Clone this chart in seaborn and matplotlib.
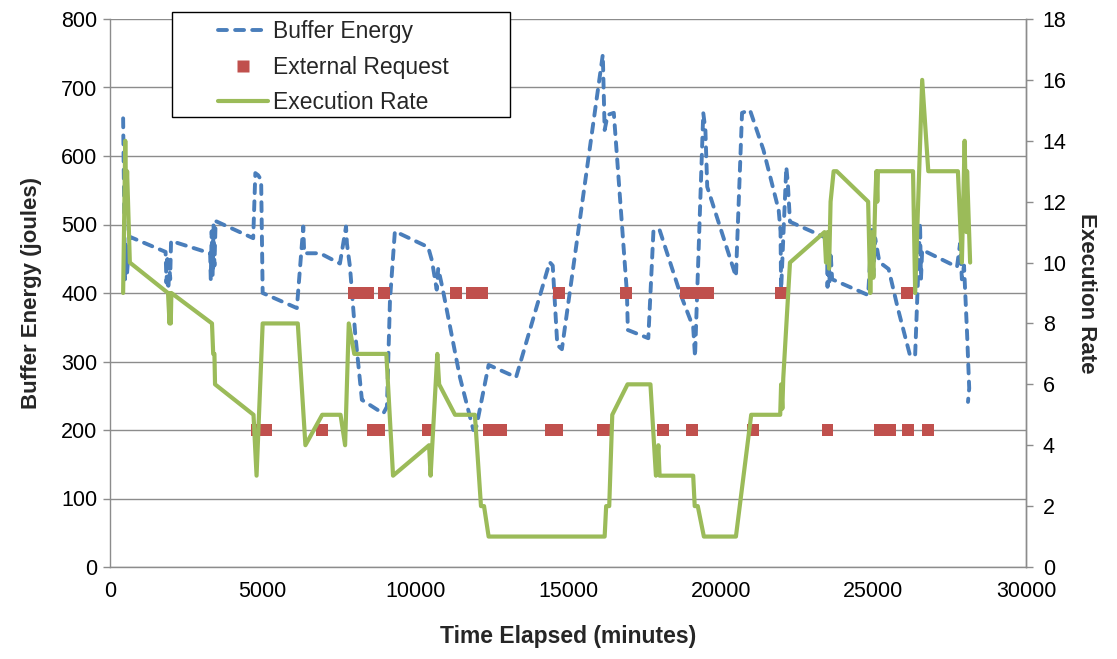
import matplotlib
matplotlib.use("Agg")
import matplotlib.pyplot as plt
from matplotlib.patches import Rectangle
from matplotlib.lines import Line2D
import seaborn as sns
import pandas as pd

# Buffer energy trace (minutes, joules)
energy_time = [430, 460, 490, 520, 560, 650, 1820, 1850, 1880, 1910, 1940, 1970, 2000,
               3280, 3300, 3330, 3360, 3390, 3420, 3460, 4690, 4760, 4850, 4950, 5000,
               6120, 6330, 6360, 6880, 7530, 7730, 7760, 7860, 8030, 8250, 8950, 9070,
               9170, 9330, 10420, 10540, 10700, 10750, 10900, 11460, 11900, 12000,
               12400, 13300, 14400, 14500, 14650, 14800, 16140, 16200, 16300, 16500,
               16930, 16960, 17630, 17800, 18000, 18670, 19100, 19160, 19430, 19500,
               19560, 20500, 20700, 20960, 21400, 21900, 21960, 21980, 22050, 22150,
               22200, 22270, 23480, 23500, 23530, 23560, 23600, 23650, 24830, 24950,
               25000, 25060, 25200, 25500, 25800, 26200, 26300, 26370, 26530, 26560,
               26600, 27740, 27840, 27900, 27970, 28070, 28140, 28100]
energy_joules = [655, 540, 420, 470, 430, 482, 460, 415, 455, 405, 445, 420, 476,
                 458, 420, 490, 425, 500, 440, 505, 480, 575, 572, 565, 400,
                 378, 497, 458, 458, 443, 497, 472, 438, 341, 244, 224, 234,
                 390, 490, 467, 448, 405, 436, 405, 277, 200, 205,
                 295, 277, 445, 440, 324, 318, 748, 638, 660, 663,
                 400, 346, 334, 492, 492, 400, 350, 307, 663, 638,
                 555, 424, 663, 667, 609, 521, 490, 404, 480, 584,
                 560, 504, 480, 409, 470, 415, 460, 420, 397, 492,
                 425, 480, 445, 435, 378, 309, 307, 310, 502, 420,
                 463, 438, 472, 420, 440, 341, 261, 241]

# Requests received from outside (minutes, energy level)
request_time = [8000, 8200, 8450, 8970, 11330, 11850, 12000, 12200, 14700, 16900,
                18850, 19100, 19350, 19600, 21980, 26100,
                4800, 5100, 6950, 8600, 8800, 10400, 12400, 12800, 14450, 14650,
                16150, 16250, 18100, 19070, 21060, 23500, 25200, 25400, 25550,
                26130, 26800]
request_level = [400] * 16 + [200] * 21

# Execution rate (minutes, rate)
rate_time = [430, 500, 530, 560, 650, 1900, 1950, 1970, 1990, 2010, 3340, 3380, 3420,
             3440, 4700, 4800, 5000, 6150, 6400, 6950, 7550, 7700, 7820, 8000, 9050,
             9270, 10450, 10500, 10720, 10780, 11300, 11950, 12150, 12250, 12400,
             16200, 16250, 16350, 16450, 16950, 17700, 17880, 17960, 18000, 19100,
             19150, 19250, 19450, 20500, 21000, 21950, 21980, 22020, 22050, 22270,
             23400, 23450, 23500, 23550, 23600, 23650, 23700, 23800, 24830, 24900,
             24950, 25000, 25060, 25100, 25130, 25150, 26300, 26370, 26600, 26800,
             27770, 27900, 27990, 28050, 28070, 28170]
rate_value = [9, 14, 12, 13, 10, 9, 8, 9, 8, 9, 8, 7, 7,
              6, 5, 3, 8, 8, 4, 5, 5, 4, 8, 7, 7,
              3, 4, 3, 7, 6, 5, 5, 2, 2, 1,
              1, 2, 2, 5, 6, 6, 3, 4, 3, 3,
              2, 2, 1, 1, 5, 5, 6, 5.2, 6.2, 10,
              11, 10, 11, 9.8, 12, 12.5, 13, 13, 12, 9,
              11, 9.5, 12, 13, 12, 13, 13, 9, 16, 13,
              13, 10, 14, 11, 13, 10]

energy_df = pd.DataFrame({"time": energy_time, "energy": energy_joules})
request_df = pd.DataFrame({"time": request_time, "energy": request_level})
rate_df = pd.DataFrame({"time": rate_time, "rate": rate_value})

BLUE = "#4A7EBB"
RED = "#C0504D"
GREEN = "#9BBB59"
GRID = "#8C8C8C"
DASH = (0, (2.3, 2.1))

sns.set_theme(style="white")
plt.rcParams["font.family"] = ["Liberation Sans", "DejaVu Sans"]

W, H = 1117, 659
fig = plt.figure(figsize=(W / 100, H / 100), dpi=100)
ax = fig.add_axes([110 / W, 1 - 567 / H, 916 / W, 548 / H])
ax2 = ax.twinx()

sns.lineplot(data=energy_df, x="time", y="energy", ax=ax, sort=False, estimator=None,
             color=BLUE, linewidth=2.8, linestyle=DASH,
             dash_capstyle="round", zorder=3)
sns.scatterplot(data=request_df, x="time", y="energy", ax=ax, marker="s", s=72,
                color=RED, edgecolor="none", zorder=4)
sns.lineplot(data=rate_df, x="time", y="rate", ax=ax2, sort=False, estimator=None,
             color=GREEN, linewidth=3.0, zorder=3)

ax.set_xlim(0, 30000)
ax.set_ylim(0, 800)
ax2.set_ylim(0, 18)
ax.set_xticks(range(0, 30001, 5000))
ax.set_yticks(range(0, 801, 100))
ax2.set_yticks(range(0, 19, 2))

ax.yaxis.grid(True, color=GRID, linewidth=1.0)
ax.set_axisbelow(True)

for a in (ax, ax2):
    a.spines["top"].set_visible(False)
    for side in ("left", "bottom", "right"):
        a.spines[side].set_color(GRID)
        a.spines[side].set_linewidth(1.0)
ax2.spines["left"].set_visible(False)
ax2.spines["bottom"].set_visible(False)

ax.tick_params(axis="both", which="major", direction="out", length=5, width=1,
               color=GRID, labelsize=15.5, labelcolor="black", pad=4)
ax.tick_params(axis="x", pad=5)
ax2.tick_params(axis="y", direction="out", length=5, width=1, color=GRID,
                labelsize=15.5, labelcolor="black", pad=7)

ax.set_xlabel("Time Elapsed (minutes)", fontsize=16.5, fontweight="bold", labelpad=17)
ax.set_ylabel("Buffer Energy (joules)", fontsize=16, fontweight="bold", labelpad=14)
ax2.set_ylabel("Execution Rate", fontsize=16, fontweight="bold", rotation=270,
               labelpad=22)

# Legend box
fig.patches.append(Rectangle((172 / W, 1 - 117 / H), 338 / W, 105 / H,
                             transform=fig.transFigure, facecolor="white",
                             edgecolor="black", linewidth=1.0, zorder=1))
handles = [
    Line2D([], [], color=BLUE, linewidth=2.8, linestyle=DASH,
           dash_capstyle="round"),
    Line2D([], [], color=RED, marker="s", markersize=8, linestyle="none",
           markeredgecolor="none"),
    Line2D([], [], color=GREEN, linewidth=3.0),
]
fig.legend(handles, ["Buffer Energy", "External Request", "Execution Rate"],
           loc="upper left", bbox_to_anchor=(218 / W, 1 - 20 / H), frameon=False,
           fontsize=16.5, handlelength=2.2, handletextpad=0.2, labelspacing=0.55,
           borderpad=0, borderaxespad=0)

fig.savefig("out.png", dpi=100)
